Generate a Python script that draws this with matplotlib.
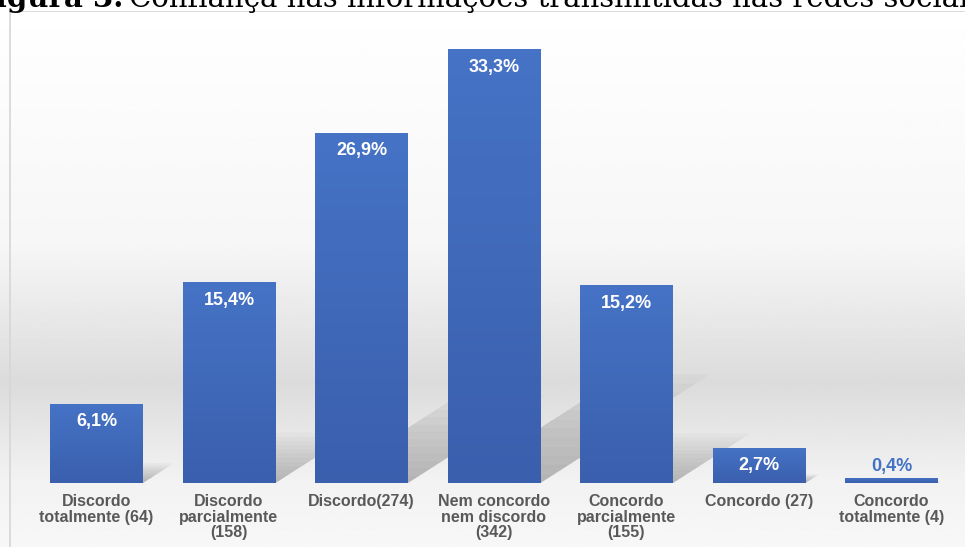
import matplotlib.pyplot as plt
import numpy as np
from matplotlib.patches import Polygon, Rectangle
from matplotlib.colors import LinearSegmentedColormap

categories = [
    "Discordo\ntotalmente (64)",
    "Discordo\nparcialmente\n(158)",
    "Discordo(274)",
    "Nem concordo\nnem discordo\n(342)",
    "Concordo\nparcialmente\n(155)",
    "Concordo (27)",
    "Concordo\ntotalmente (4)",
]
percent = [6.1, 15.4, 26.9, 33.3, 15.2, 2.7, 0.4]
percent_labels = ["6,1%", "15,4%", "26,9%", "33,3%", "15,2%", "2,7%", "0,4%"]

W, H = 965, 547
fig = plt.figure(figsize=(W / 100, H / 100), dpi=100)

# background: white top, grey floor band, lighter bottom
bg = fig.add_axes([0, 0, 1, 1], zorder=-5)
bg.axis("off")
yy = np.linspace(0, 1, 400)  # 0 = bottom
grey = np.interp(yy, [0, 0.12, 0.30, 0.55, 1.0], [0.97, 0.95, 0.86, 0.965, 1.0])
img = np.repeat(grey[:, None], 2, axis=1)
bg.imshow(img, cmap="gray", vmin=0, vmax=1, origin="lower",
          extent=[0, 1, 0, 1], aspect="auto")
bg.set_xlim(0, 1)
bg.set_ylim(0, 1)
bg.add_patch(Rectangle((10 / W, -0.1), 1.2, 1 - 11 / H + 0.1,
                       fill=False, edgecolor="#d6d6d6", lw=1.2))
# white strip above the frame
bg.add_patch(Rectangle((0, 1 - 11 / H), 1, 11 / H, color="white", lw=0))

# title (cut at the top, as in the source)
fig.text(123 / W, 1 - 7 / H, "Figura 3.", ha="right", va="baseline",
         family="DejaVu Serif", weight="bold", fontsize=21, color="black")
fig.text(129 / W, 1 - 7 / H, "Confiança nas informações transmitidas nas redes sociais",
         ha="left", va="baseline", family="DejaVu Serif", fontsize=21, color="black")

ax = fig.add_axes([30.25 / W, (H - 483) / H, 927.5 / W, (483 - 14) / H])
ax.patch.set_alpha(0)
x = np.arange(len(categories))
width = 0.70

# soft diagonal shadows behind bars
for xi, h in zip(x, percent):
    xl, xr = xi - width / 2, xi + width / 2
    for k in range(12):
        f = 1 - k / 12
        dx = 0.0384 * h * f
        dy = 0.25 * h * f
        ax.add_patch(Polygon([(xl + 0.05, 0), (xr, 0), (xr + dx, dy),
                              (xl + 0.05 + dx, dy)], closed=True,
                             color="#666666", alpha=0.045, lw=0, zorder=1))

bars = ax.bar(x, percent, width=width, color="#4270c2", zorder=2)
grad = np.linspace(0, 1, 100)[:, None]
cmap = LinearSegmentedColormap.from_list("b", ["#3a5fad", "#4673c6"])
for b in bars:
    bx, by = b.get_x(), b.get_y()
    im = ax.imshow(grad, cmap=cmap, origin="lower", aspect="auto", zorder=3,
                   extent=[bx, bx + b.get_width(), by, by + b.get_height()])
    im.set_clip_path(b)

for xi, h, lab in zip(x, percent, percent_labels):
    if h > 2:
        ax.annotate(lab, (xi, h), xytext=(0, -13), textcoords="offset points",
                    ha="center", va="center", color="white", weight="bold",
                    fontsize=13, family="Liberation Sans", zorder=4)
    else:
        ax.annotate(lab, (xi, h), xytext=(0, 8), textcoords="offset points",
                    ha="center", va="center", color="#4472c4", weight="bold",
                    fontsize=13, family="Liberation Sans", zorder=4)

ax.set_xlim(-0.5, len(categories) - 0.5)
ax.set_ylim(0, 36)
ax.set_xticks(x)
ax.set_xticklabels(categories, family="Liberation Sans", weight="bold",
                   fontsize=11.5, color="#595959", linespacing=1.05)
ax.tick_params(axis="x", length=0, pad=8)
ax.set_yticks([])
for s in ax.spines.values():
    s.set_visible(False)

fig.savefig("out.png", dpi=100)
